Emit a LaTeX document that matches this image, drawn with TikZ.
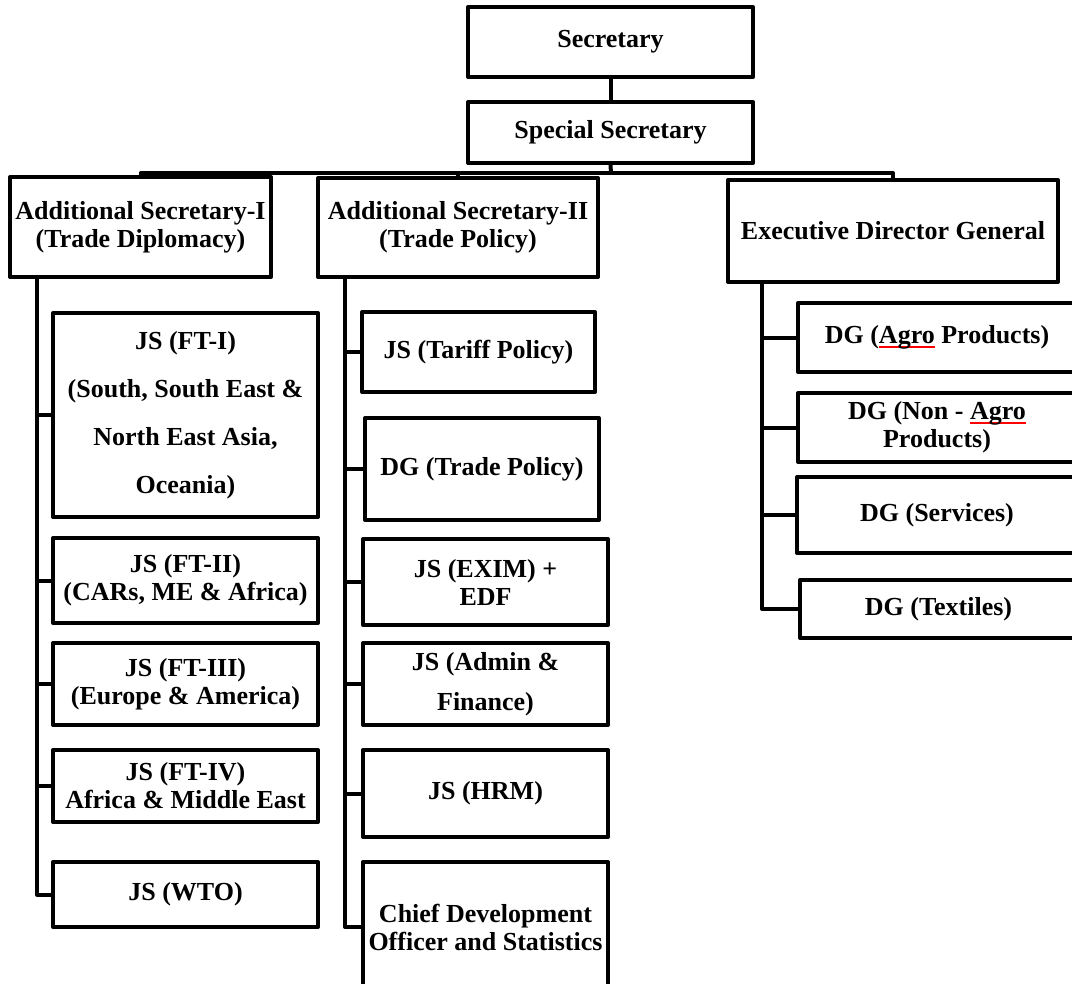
\documentclass[tikz,border=0pt]{standalone}
\usepackage{fontspec}
\setmainfont{Liberation Serif}
\usetikzlibrary{calc}
\newcommand{\redmark}[1]{\setbox0\hbox{#1}\rlap{\color{red}\rule[-3.5pt]{\wd0}{1.6pt}}\box0\relax}

\begin{document}
\begin{tikzpicture}[
    x=0.75pt, y=-0.75pt,
    unit/.style={draw, line width=3pt, line join=round, rectangle, inner sep=0pt, align=center,
        font=\bfseries\fontsize{19.5}{21}\selectfont},
    boxsize/.style 2 args={minimum width=#1*0.75pt, minimum height=#2*0.75pt},
    link/.style={line width=3pt, line join=round}
]
    \useasboundingbox (0,0) rectangle (1072,983);

    % --- TOP ---
    \node[unit, boxsize={285}{70}] (sec) at (610.5,42) {Secretary};
    \node[unit, boxsize={285}{61}] (spsec) at (610.5,132.5) {Special Secretary};
    \node[unit, boxsize={261}{100}] (asone) at (140.5,227) {Additional Secretary-I\\(Trade Diplomacy)};
    \node[unit, boxsize={280}{99}] (astwo) at (458,227.5) {Additional Secretary-II\\(Trade Policy)};
    \node[unit, boxsize={330}{102}] (edg) at (893,231) {Executive Director General};

    \coordinate (bus) at (611,173);
    \draw[link] (sec.south) -- (spsec.north);
    \draw[link] (spsec.south) -- (bus);
    \draw[link] (asone.north) |- (bus) -| (edg.north);
    \draw[link] (astwo.north) -- (astwo.north |- bus);

    % --- TRADE DIPLOMACY ---
    \node[unit, boxsize={265}{204}] (ftone) at (185.5,415) {JS (FT-I)\\[15pt](South, South East \&\\[15pt]North East Asia,\\[15pt]Oceania)};
    \node[unit, boxsize={265}{85}] (fttwo) at (185.5,580.5) {JS (FT-II)\\(CARs, ME \& Africa)};
    \node[unit, boxsize={265}{82}] (ftthree) at (185.5,684) {JS (FT-III)\\(Europe \& America)};
    \node[unit, boxsize={265}{72}] (ftfour) at (185.5,786) {JS (FT-IV)\\Africa \& Middle East};
    \node[unit, boxsize={265}{65}] (wto) at (185.5,894.5) {JS (WTO)};

    \coordinate (lefttrunk) at (37,277);
    \draw[link] (lefttrunk) |- (wto.west);
    \foreach \n in {ftone, fttwo, ftthree, ftfour}
        \draw[link] (lefttrunk |- \n.west) -- (\n.west);

    % --- TRADE POLICY ---
    \node[unit, boxsize={233}{80}] (tariff) at (478.5,352) {JS (Tariff Policy)};
    \node[unit, boxsize={234}{102}] (dgtp) at (482,469) {DG (Trade Policy)};
    \node[unit, boxsize={245}{86}] (exim) at (485.5,582) {JS (EXIM) +\\EDF};
    \node[unit, boxsize={245}{82}] (admin) at (485.5,684) {JS (Admin \&\\[9pt]Finance)};
    \node[unit, boxsize={245}{87}] (hrm) at (485.5,793.5) {JS (HRM)};
    \node[unit, boxsize={245}{130}] (chief) at (485.5,927) {Chief Development\\Officer and Statistics};

    \coordinate (midtrunk) at (345,277);
    \draw[link] (midtrunk) |- (chief.west);
    \foreach \n in {tariff, dgtp, exim, admin, hrm}
        \draw[link] (midtrunk |- \n.west) -- (\n.west);

    % --- EXECUTIVE DIRECTOR GENERAL ---
    \node[unit, boxsize={278}{69}] (agro) at (937,337.5) {DG (\redmark{Agro} Products)};
    \node[unit, boxsize={278}{69}] (nonagro) at (937,427.5) {DG (Non - \redmark{Agro}\\Products)};
    \node[unit, boxsize={280}{76}] (services) at (937,515) {DG (Services)};
    \node[unit, boxsize={277}{58}] (textiles) at (938.5,609) {DG (Textiles)};

    \coordinate (righttrunk) at (762,282);
    \draw[link] (righttrunk) |- (textiles.west);
    \foreach \n in {agro, nonagro, services}
        \draw[link] (righttrunk |- \n.west) -- (\n.west);

\end{tikzpicture}
\end{document}
